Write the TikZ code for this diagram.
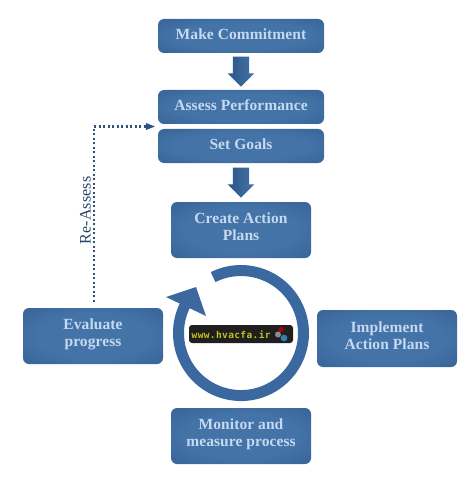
\documentclass[tikz,border=0pt]{standalone}
\usepackage{fontspec}
\setmainfont{Liberation Serif}
\newfontfamily\boxfont[LetterSpace=0.5]{Liberation Serif}
\newfontfamily\labelfont[LetterSpace=1]{Liberation Serif}
\newfontfamily\logofont[LetterSpace=4]{DejaVu Sans Mono}
\usetikzlibrary{shapes.arrows,calc,arrows.meta}
\definecolor{boxin}{HTML}{4473A8}
\definecolor{boxmid}{HTML}{386497}
\definecolor{boxout}{HTML}{2C5587}
\definecolor{boxtext}{HTML}{C6D9F1}
\definecolor{ringblue}{HTML}{3B689F}
\definecolor{dotblue}{HTML}{2E527E}
\definecolor{labelblue}{HTML}{25436A}
\definecolor{logoyellow}{HTML}{C2C220}
\pgfdeclareradialshading{boxglow}{\pgfpoint{0bp}{0bp}}{color(0bp)=(boxin); color(20bp)=(boxin); color(36bp)=(boxmid); color(50bp)=(boxout)}
\newcommand\liftby[1]{\rule[-#1]{0pt}{#1}}
\tikzset{
  stepbox/.style={shading=boxglow,rounded corners=6pt,inner sep=0pt,align=center,text=boxtext,
    font=\boxfont\bfseries\fontsize{15.5}{17}\selectfont},
  blockarrow/.style={single arrow,single arrow head extend=5pt,minimum height=30pt,anchor=tip,
    inner xsep=0pt,inner ysep=8pt,rotate=-90,left color=boxout,right color=boxin,draw=none},
  reassess/.style={draw=dotblue,line width=2.2pt,dash pattern=on 2.2pt off 2.3pt},
}
\begin{document}
\begin{tikzpicture}[x=1pt,y=-1pt]
\useasboundingbox (0,0) rectangle (473,481);
\node[stepbox,minimum width=166pt,minimum height=34pt] (commit) at (241,36) {Make Commitment\liftby{4pt}};
\node[stepbox,minimum width=166pt,minimum height=34pt] (assess) at (241,107) {Assess Performance\liftby{4pt}};
\node[stepbox,minimum width=166pt,minimum height=34pt] (goals) at (241,146) {Set Goals\liftby{4pt}};
\node[stepbox,minimum width=140pt,minimum height=56pt] (create) at (241,230) {Create Action\\Plans\liftby{7pt}};
\node[stepbox,minimum width=140pt,minimum height=56pt] (evaluate) at (93,336) {Evaluate\\progress\liftby{7pt}};
\node[stepbox,minimum width=140pt,minimum height=57pt] (implement) at (387,338.5) {Implement\\Action Plans\liftby{5pt}};
\node[stepbox,minimum width=140pt,minimum height=56pt] (monitor) at (241,436) {Monitor and\\measure process\liftby{7pt}};
\node[blockarrow] (arrowa) at ($(assess.north)+(0,-3)$) {};
\node[blockarrow] (arrowb) at ($(create.north)+(0,-4)$) {};
% circular arrow
\coordinate (ringc) at (241,333);
\draw[ringblue,line width=11pt] ($(ringc)+(-27.9,-55.9)$) arc[start angle=116.5,end angle=-206,radius=62.5pt];
\fill[ringblue] (166,297) -- (196,287) -- (206,316) -- cycle;
% logo
\node[fill=black!88,rounded corners=3pt,minimum width=104pt,minimum height=18pt,inner sep=0pt] (logo) at (241,334) {};
\node[anchor=west,inner sep=0pt,text=logoyellow,font=\logofont\bfseries\fontsize{9.5}{9.5}\selectfont] (logotext) at (191.5,335) {www.hvacfa.ir};
\fill[black!45] (278,334.5) circle (3pt);
\fill[red!70!black] (281,329.5) circle (2.6pt);
\fill[ringblue!85!cyan] (284,338) circle (3.4pt);
% re-assess connector
\coordinate (feedstart) at ($(evaluate.north)+(1,-6)$);
\coordinate (feedend) at ($(assess.south west)!.5!(goals.north west)+(-3,0)$);
\draw[reassess] (feedstart) |- ($(feedend)+(-8,0)$);
\fill[dotblue] (feedend) -- ++(-9,-3.6) -- ++(0,7.2) -- cycle;
\node[rotate=90,inner sep=0pt,text=labelblue,font=\labelfont\fontsize{16}{16}\selectfont] (relabel) at (85.5,210.5) {Re-Assess};
\end{tikzpicture}
\end{document}
